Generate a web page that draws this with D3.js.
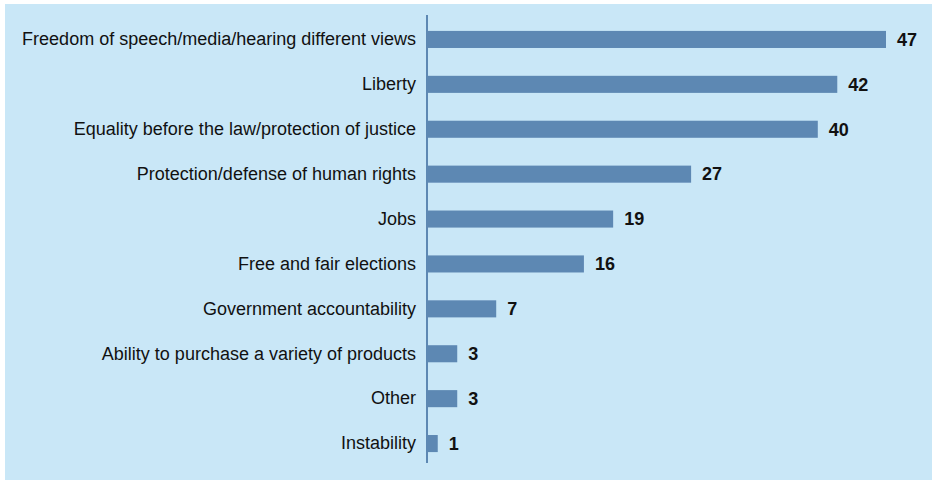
<!DOCTYPE html>
<html><head><meta charset="utf-8">
<script src="https://cdn.jsdelivr.net/npm/d3@7"></script>
<style>body{margin:0;background:#fff}svg{display:block}</style>
</head><body><svg id="c" width="932" height="480"></svg>
<script>
const categories = ["Freedom of speech/media/hearing different views","Liberty","Equality before the law/protection of justice","Protection/defense of human rights","Jobs","Free and fair elections","Government accountability","Ability to purchase a variety of products","Other","Instability"];
const values = [47,42,40,27,19,16,7,3,3,1];

const svg = d3.select("#c");
const W=932,H=480;
svg.append("rect").attr("x",5).attr("y",4).attr("width",W-5).attr("height",H-4).attr("fill","#c9e7f7");
const x0=428;
const x = d3.scaleLinear().domain([0,47]).range([x0,886]);
const y = d3.scaleBand().domain(categories).range([17,466]).paddingInner(0.62).paddingOuter(0.31);
const font="'Liberation Sans Narrow','Arial Narrow','Liberation Sans',Arial,sans-serif";
svg.selectAll("rect.bar").data(values).join("rect").attr("class","bar")
 .attr("x",x0).attr("y",(d,i)=>y(categories[i])).attr("width",d=>x(d)-x0).attr("height",y.bandwidth()).attr("fill","#5d88b3");
const ax = svg.append("g").attr("transform",`translate(${x0-1},0)`).call(d3.axisLeft(y).tickSize(0).tickPadding(11));
ax.select(".domain").attr("stroke","#5d88b3").attr("stroke-width",2).attr("d","M0,15V463");
ax.selectAll("text").attr("font-family",font).attr("font-size",18).attr("fill","#111");
svg.selectAll("text.v").data(values).join("text").attr("class","v")
 .attr("x",d=>x(d)+11).attr("y",(d,i)=>y(categories[i])+y.bandwidth()/2).attr("dy","0.35em")
 .attr("font-family",font).attr("font-weight","bold").attr("font-size",18).attr("fill","#111").text(d=>d);
</script></body></html>
